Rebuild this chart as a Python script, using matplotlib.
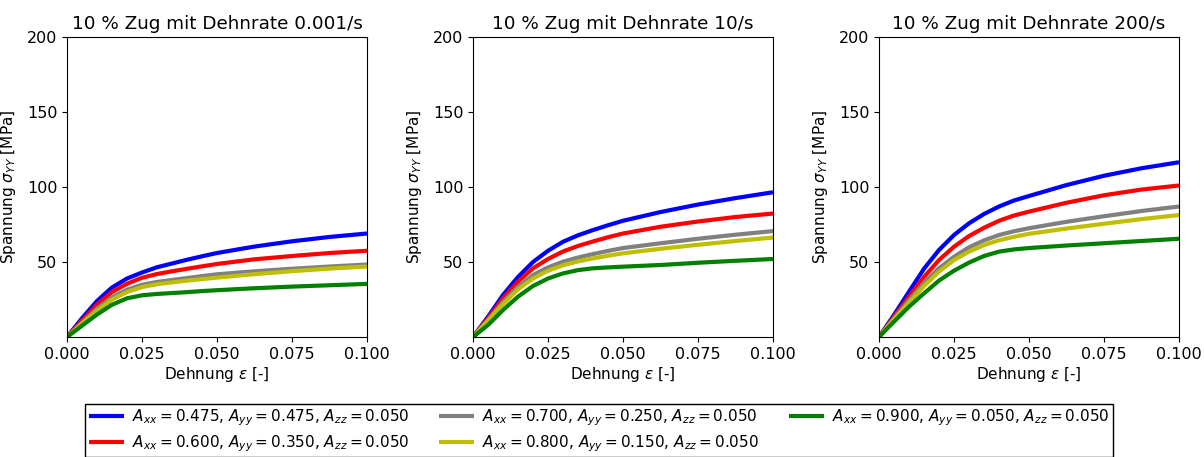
import matplotlib
matplotlib.use("Agg")
import matplotlib.pyplot as plt

strain = [0, 0.005, 0.01, 0.015, 0.02, 0.025, 0.03, 0.035, 0.04, 0.045, 0.05, 0.0625, 0.075, 0.0875, 0.1]

titles = ["10 % Zug mit Dehnrate 0.001/s", "10 % Zug mit Dehnrate 10/s", "10 % Zug mit Dehnrate 200/s"]

labels = [
    r"$A_{xx} = 0.475$, $A_{yy} = 0.475$, $A_{zz} = 0.050$",
    r"$A_{xx} = 0.600$, $A_{yy} = 0.350$, $A_{zz} = 0.050$",
    r"$A_{xx} = 0.700$, $A_{yy} = 0.250$, $A_{zz} = 0.050$",
    r"$A_{xx} = 0.800$, $A_{yy} = 0.150$, $A_{zz} = 0.050$",
    r"$A_{xx} = 0.900$, $A_{yy} = 0.050$, $A_{zz} = 0.050$",
]
colors = ["b", "r", "grey", "y", "g"]

# rate 0.001/s
rate1_blue   = [0, 12.5, 24.0, 33.0, 39.0, 43.0, 46.5, 49.0, 51.5, 53.8, 56.0, 60.3, 63.8, 66.7, 69.0]
rate1_red    = [0, 11.0, 21.5, 30.0, 35.5, 39.5, 42.0, 43.8, 45.5, 47.1, 48.7, 51.8, 54.0, 56.0, 57.5]
rate1_grey   = [0, 9.5, 19.0, 26.5, 31.5, 34.8, 36.7, 38.0, 39.3, 40.6, 41.8, 43.8, 45.5, 47.0, 48.3]
rate1_yellow = [0, 9.0, 17.5, 25.0, 30.0, 33.3, 35.2, 36.4, 37.6, 38.6, 39.6, 41.9, 43.9, 45.6, 47.0]
rate1_green  = [0, 7.5, 15.0, 21.5, 25.8, 27.8, 28.7, 29.3, 29.9, 30.6, 31.2, 32.5, 33.6, 34.5, 35.4]

# rate 10/s
rate2_blue   = [0, 13.5, 28.0, 40.0, 50.0, 57.5, 63.5, 67.8, 71.3, 74.5, 77.5, 83.3, 88.3, 92.6, 96.5]
rate2_red    = [0, 12.4, 25.8, 36.9, 45.8, 52.0, 57.0, 60.7, 63.7, 66.5, 69.0, 73.5, 77.0, 80.0, 82.3]
rate2_grey   = [0, 11.3, 23.5, 33.5, 41.3, 46.4, 50.2, 53.0, 55.3, 57.4, 59.3, 62.5, 65.5, 68.2, 70.6]
rate2_yellow = [0, 10.9, 22.0, 31.8, 39.0, 44.2, 47.8, 50.4, 52.4, 54.2, 55.8, 58.8, 61.5, 64.0, 66.3]
rate2_green  = [0, 8.0, 18.0, 26.9, 34.0, 39.0, 42.4, 44.6, 45.8, 46.4, 46.9, 48.0, 49.5, 50.8, 52.0]

# rate 200/s
rate3_blue   = [0, 14.7, 30.2, 45.5, 58.0, 68.0, 75.8, 82.0, 87.0, 91.0, 94.0, 101.3, 107.5, 112.5, 116.5]
rate3_red    = [0, 13.5, 26.9, 40.0, 51.3, 60.2, 67.3, 72.8, 77.5, 81.0, 83.6, 89.5, 94.5, 98.3, 101.0]
rate3_grey   = [0, 12.4, 24.7, 36.2, 45.8, 53.5, 59.8, 64.4, 68.0, 70.5, 72.5, 76.8, 80.5, 84.0, 87.0]
rate3_yellow = [0, 11.8, 22.9, 34.0, 43.6, 51.3, 56.9, 61.3, 64.5, 66.8, 68.8, 72.3, 75.5, 78.6, 81.3]
rate3_green  = [0, 10.2, 20.2, 29.1, 37.6, 44.2, 49.6, 54.0, 56.9, 58.4, 59.3, 61.0, 62.5, 64.0, 65.5]

panels = [
    [rate1_blue, rate1_red, rate1_grey, rate1_yellow, rate1_green],
    [rate2_blue, rate2_red, rate2_grey, rate2_yellow, rate2_green],
    [rate3_blue, rate3_red, rate3_grey, rate3_yellow, rate3_green],
]

xticks = [0.0, 0.025, 0.05, 0.075, 0.1]
yticks = [50, 100, 150, 200]

W, H = 1204, 457
fig = plt.figure(figsize=(W / 100, H / 100), dpi=100)
lefts = [67, 473, 879]
handles = []
for i, (left, series, title) in enumerate(zip(lefts, panels, titles)):
    ax = fig.add_axes([left / W, (H - 337) / H, 300 / W, 300 / H])
    for ys, c, lab in zip(series, colors, labels):
        (ln,) = ax.plot(strain, ys, color=c, lw=3, label=lab,
                        solid_joinstyle="round", solid_capstyle="butt")
        if i == 0:
            handles.append(ln)
    ax.set_xlim(0, 0.1)
    ax.set_ylim(0, 200)
    ax.set_xticks(xticks)
    ax.set_yticks(yticks)
    ax.tick_params(labelsize=11.5)
    ax.set_title(title, fontsize=13.2)
    ax.set_xlabel(r"Dehnung $\varepsilon$ [-]", fontsize=11, labelpad=2)
    ax.set_ylabel(r"Spannung $\sigma_{YY}$ [MPa]", fontsize=11, labelpad=6)

fig.legend(handles=handles, labels=labels, loc="upper left", ncol=3,
           bbox_to_anchor=(85 / W, 1 - 404 / H, (1113 - 85) / W, 0.0),
           mode="expand", fontsize=11, handlelength=2.3, handletextpad=0.5,
           borderpad=0.25, labelspacing=0.3, borderaxespad=0.0, frameon=True,
           fancybox=False, edgecolor="black", framealpha=1)

fig.savefig("out.png", dpi=100)
